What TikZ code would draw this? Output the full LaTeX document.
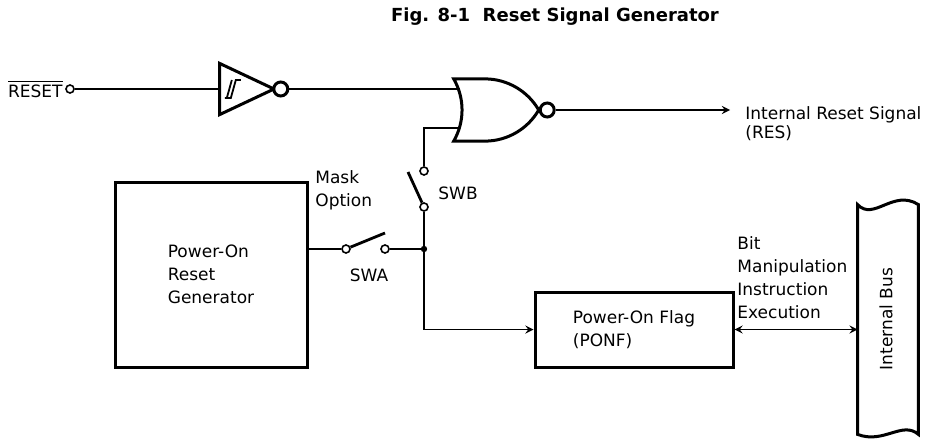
\documentclass[tikz,border=0pt]{standalone}
\usepackage{fontspec}
\setmainfont{DejaVu Sans}
\usetikzlibrary{arrows,positioning,calc,shapes.gates.logic.US}
\tikzset{block/.style={draw, line width=1.5pt, inner sep=0pt, align=left, font=\lbl}}
\tikzset{lbl/.style={inner sep=0pt, align=left, font=\lbl}}
\tikzset{contact/.style={draw, circle, line width=0.8pt, inner sep=0pt, minimum size=4pt}}
\tikzset{gate/.style={draw, line width=1.5pt, inner sep=0pt, logic gate inverted radius=3.5pt}}
\tikzset{sig/.style={line width=0.8pt}}
\tikzset{blade/.style={line width=1.4pt}}
\newcommand{\lbl}{\fontsize{8.5}{11.5}\selectfont}

\begin{document}
\begin{tikzpicture}[>=stealth, x=0.5pt, y=-0.5pt]
	\useasboundingbox (0,0) rectangle (937,439);
	\node[lbl, font=\bfseries\fontsize{9}{11}\selectfont] (title) at (555,17) {Fig. 8-1\ \ Reset Signal Generator};
	% reset input and schmitt inverter
	\node[contact] (rin) at (70,89) {};
	\node[lbl, anchor=east] (rlbl) at (63,89) {$\overline{\hbox{RESET}}$};
	\node[not gate US, gate, anchor=input, minimum width=22pt, minimum height=22pt] (inv) at (218,89) {};
	\draw[line width=0.9pt] ([shift={(-13,9)}]inv.center) -- ++(6,0) -- ++(5,-18) -- ++(5,0);
	\draw[line width=0.9pt] ([shift={(-11,9)}]inv.center) -- ++(5,-18);
	\node[nor gate US, gate, logic gate inputs=nn, minimum width=42.5pt, minimum height=31pt] (nor) at (490,110) {};
	\node[lbl, anchor=north west, font=\fontsize{8.5}{9.5}\selectfont] (ires) at (745,106) {Internal Reset Signal\\(RES)};
	% switches
	\node[contact] (swbt) at (424,171) {};
	\node[contact] (swbb) at (424,207) {};
	\coordinate (swbtip) at (408,172);
	\node[contact] (swal) at (346,249) {};
	\node[contact] (swar) at (385,249) {};
	\coordinate (swatip) at (385,233);
	\coordinate (jn) at (424,249);
	\node[lbl, anchor=west] (swblbl) at (438,193) {SWB};
	\node[lbl] (swalbl) at (369,275) {SWA};
	\node[lbl, anchor=west] (mask) at (315,190) {Mask\\Option};
	% blocks
	\node[block, minimum width=96pt, minimum height=92.5pt] (prg) at (211,274.5) {Power-On\\Reset\\Generator};
	\node[block, minimum width=99pt, minimum height=37.5pt] (pon) at (634,329.5) {Power-On Flag\\(PONF)};
	\node[lbl, anchor=west] (bmie) at (737,278) {Bit\\Manipulation\\Instruction\\Execution};
	\node[inner sep=0pt, minimum width=30pt, minimum height=114.5pt] (bus) at (888,319.5) {};
	\node[lbl, rotate=90] (buslbl) at (886,319) {Internal Bus};
	\draw[line width=1.5pt] (bus.north west) .. controls ($(bus.north west)+(16,17)$) and ($(bus.north east)+(-25,-16)$) .. (bus.north east) -- (bus.south east) .. controls ($(bus.south east)+(-16,-14)$) and ($(bus.south west)+(26,10)$) .. (bus.south west) -- cycle;
	% connections
	\draw[sig] (rin) -- (inv.input);
	\draw[sig] (inv.output) -- (inv.output -| nor.input 1);
	\draw[sig,->,shorten >=7.5pt] (nor.output) -- (ires.west |- nor.output);
	\draw[sig] ([yshift=-3.75pt]nor.input 2) -| (swbt);
	\draw[blade] (swbb) -- (swbtip);
	\draw[sig] (swbb) -- (jn);
	\draw[sig] (prg.east |- swal) -- (swal);
	\draw[blade] (swal) -- (swatip);
	\draw[sig] (swar) -- (jn);
	\fill (jn) circle (1.6pt);
	\draw[sig,->] (jn) |- (pon.west);
	\draw[sig,<->] (pon.east) -- (bus.west |- pon.east);
\end{tikzpicture}
\end{document}
